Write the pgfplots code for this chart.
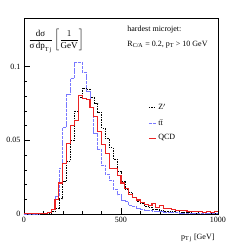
\documentclass[border=0pt]{standalone}
\usepackage{pgfplots}
\pgfplotsset{compat=1.18}
\usepackage{amsmath}
\usepackage{fontspec}
\setmainfont{Liberation Serif}
\definecolor{ttblue}{RGB}{120,120,255}
\definecolor{qcdred}{RGB}{235,35,35}
\begin{document}
\begin{tikzpicture}
\useasboundingbox (-24pt,-30pt) rectangle (219pt,214pt);
\begin{axis}[
  at={(0,0)}, anchor=south west,
  scale only axis, width=194pt, height=195.5pt,
  xmin=0, xmax=1000, ymin=0, ymax=0.1325,
  xtick={0,500,1000}, ytick={0,0.05,0.1},
  xticklabels={0,500,1000}, yticklabels={0,0.05,0.1},
  minor x tick num=4, minor y tick num=4,
  tick align=inside, xtick pos=bottom, ytick pos=left,
  major tick length=6pt, minor tick length=3pt,
  tick style={black, line width=0.4pt},
  axis line style={line width=0.5pt},
  every tick label/.append style={font=\fontsize{8}{9}\selectfont},
  /pgf/number format/assume math mode=true,
  xlabel={p\textsubscript{T\,j} [GeV]},
  every axis x label/.style={at={(rel axis cs:1,0)}, anchor=north east, yshift=-16pt, font=\fontsize{8}{9}\selectfont},
  clip=false,
]
% Z'
\addplot[black, line width=0.6pt, dash pattern=on 1.5pt off 1pt, const plot] coordinates {
(0,0.0002)(20,0.0002)(40,0.0002)(60,0.0002)(80,0.0002)(100,0.0003)(120,0.0005)(140,0.0015)(160,0.004)(180,0.0105)
(200,0.022)(220,0.036)(240,0.050)(260,0.0695)(280,0.079)(300,0.0855)(320,0.0845)(340,0.079)(360,0.075)(380,0.069)
(400,0.058)(420,0.051)(440,0.045)(460,0.037)(480,0.029)(500,0.022)(520,0.017)(540,0.0145)(560,0.011)(580,0.0088)
(600,0.007)(620,0.0055)(640,0.0045)(660,0.0035)(680,0.003)(700,0.0025)(720,0.002)(740,0.0018)(760,0.0015)(780,0.0013)
(800,0.0012)(820,0.001)(840,0.0009)(860,0.0008)(880,0.0007)(900,0.0007)(920,0.0006)(940,0.0005)(960,0.0005)(980,0.0005)(1000,0.0005)};
% ttbar
\addplot[color=ttblue, line width=0.7pt, dash pattern=on 3pt off 0.8pt, const plot] coordinates {
(0,0)(20,0)(40,0)(60,0)(80,0.0002)(100,0.0003)(120,0.0008)(140,0.003)(160,0.012)(180,0.031)
(200,0.0585)(220,0.081)(240,0.092)(260,0.1025)(280,0.1025)(300,0.096)(320,0.083)(340,0.072)(360,0.055)(380,0.0435)
(400,0.033)(420,0.027)(440,0.023)(460,0.017)(480,0.013)(500,0.009)(520,0.0085)(540,0.006)(560,0.005)(580,0.004)
(600,0.0032)(620,0.0028)(640,0.0025)(660,0.002)(680,0.0018)(700,0.0015)(720,0.0013)(740,0.0011)(760,0.0009)(780,0.0008)
(800,0.0007)(820,0.0006)(840,0.0005)(860,0.0005)(880,0.0004)(900,0.0004)(920,0.0003)(940,0.0003)(960,0.0003)(980,0.0002)(1000,0.0002)};
% QCD
\addplot[color=qcdred, line width=1.1pt, const plot] coordinates {
(0,0.0003)(20,0.0003)(40,0.0003)(60,0.0003)(80,0.0004)(100,0.0005)(120,0.001)(140,0.003)(160,0.010)(180,0.021)
(200,0.034)(220,0.048)(240,0.060)(260,0.0635)(280,0.0805)(300,0.0785)(320,0.0775)(340,0.072)(360,0.066)(380,0.056)
(400,0.047)(420,0.041)(440,0.031)(460,0.031)(480,0.026)(500,0.021)(520,0.0175)(540,0.013)(560,0.011)(580,0.0095)
(600,0.008)(620,0.0065)(640,0.0055)(660,0.007)(680,0.0045)(700,0.0055)(720,0.0035)(740,0.0035)(760,0.003)(780,0.0025)
(800,0.0022)(820,0.0025)(840,0.0015)(860,0.0015)(880,0.0014)(900,0.0015)(920,0.0013)(940,0.0014)(960,0.0012)(980,0.0015)(1000,0.0015)};
% legend
\draw[black, line width=0.6pt, dash pattern=on 1.5pt off 1pt] (rel axis cs:0.644,0.545) -- (rel axis cs:0.682,0.545);
\node[anchor=west, inner sep=1pt, font=\fontsize{8}{9}\selectfont] at (rel axis cs:0.686,0.548) {Z$'$};
\draw[ttblue, line width=0.7pt, dash pattern=on 3pt off 0.8pt] (rel axis cs:0.644,0.463) -- (rel axis cs:0.682,0.463);
\node[anchor=west, inner sep=1pt, font=\fontsize{8}{9}\selectfont] at (rel axis cs:0.686,0.466) {t$\bar{\text{t}}$};
\draw[qcdred, line width=1.1pt] (rel axis cs:0.644,0.386) -- (rel axis cs:0.682,0.386);
\node[anchor=west, inner sep=1pt, font=\fontsize{8}{9}\selectfont] at (rel axis cs:0.686,0.389) {QCD};
\node[anchor=center, font=\fontsize{9}{10.8}\selectfont] at (rel axis cs:0.165,0.885)
  {$\dfrac{\text{dσ}}{\text{σ\,dp}_{\text{T\,j}}}\left[\dfrac{1}{\text{GeV}}\right]$};
\node[anchor=west, font=\fontsize{8}{9}\selectfont] at (rel axis cs:0.515,0.944) {hardest microjet:};
\node[anchor=west, font=\fontsize{8}{9}\selectfont] at (rel axis cs:0.515,0.867) {R\textsubscript{C/A} = 0.2, p\textsubscript{T} > 10 GeV};
\end{axis}
\end{tikzpicture}
\end{document}
